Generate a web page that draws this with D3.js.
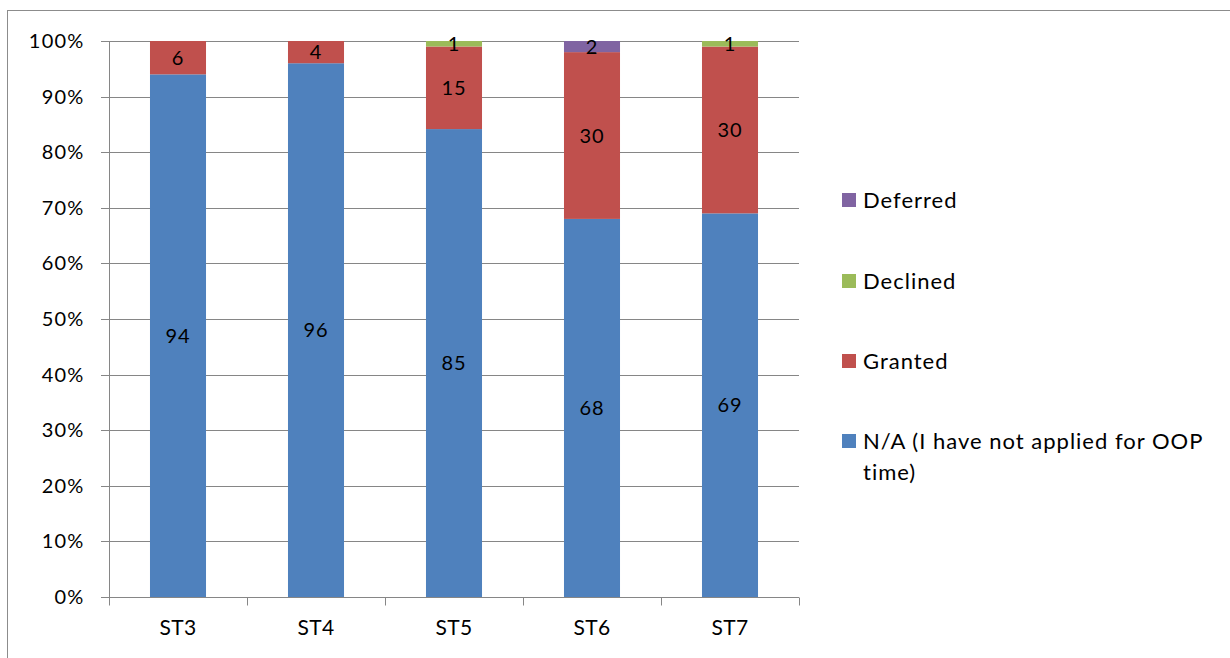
<!DOCTYPE html>
<html><head><meta charset="utf-8">
<script src="https://cdn.jsdelivr.net/npm/d3@7"></script>
<style>body{margin:0;background:#fff;} svg{display:block;} text{font-family:Lato,"Open Sans",sans-serif;fill:#000;}</style>
</head><body>
<svg id="c" width="1230" height="658"></svg>
<script>
const categories = ["ST3","ST4","ST5","ST6","ST7"];
const naValues = [94,96,85,68,69];
const grantedValues = [6,4,15,30,30];
const declinedValues = [0,0,1,0,1];
const deferredValues = [0,0,0,2,0];
const seriesNames = ["N/A (I have not applied for OOP time)","Granted","Declined","Deferred"];
const seriesColors = ["#4F81BD","#C0504D","#9BBB59","#8064A2"];
const yTicks = [0,0.1,0.2,0.3,0.4,0.5,0.6,0.7,0.8,0.9,1];

(function(){
const svg = d3.select("#c");
svg.append("rect").attr("x",7.5).attr("y",10.5).attr("width",1240).attr("height",660)
  .attr("fill","none").attr("stroke","#8c8c8c").attr("stroke-width",1);

const pL=109, pR=799, pT=41, pB=597;
const x = d3.scaleBand().domain(categories).range([pL,pR]).paddingInner(0.594).paddingOuter(0.297);
const y = d3.scaleLinear().domain([0,1]).range([pB,pT]);

svg.append("g").selectAll("line").data(yTicks).join("line")
  .attr("x1",pL-8).attr("x2",pR).attr("y1",d=>Math.round(y(d))+0.5).attr("y2",d=>Math.round(y(d))+0.5)
  .attr("stroke","#868686").attr("stroke-width",1);

const rows = categories.map((c,i)=>({cat:c, s0:naValues[i], s1:grantedValues[i], s2:declinedValues[i], s3:deferredValues[i]}));
const keys=["s0","s1","s2","s3"];
const stacked = d3.stack().keys(keys).offset(d3.stackOffsetExpand)(rows);

const g = svg.append("g");
stacked.forEach((layer,li)=>{
  g.append("g").selectAll("rect").data(layer).join("rect")
    .attr("x",d=>x(d.data.cat)).attr("width",x.bandwidth())
    .attr("y",d=>y(d[1])).attr("height",d=>Math.max(0,y(d[0])-y(d[1])))
    .attr("fill",seriesColors[li]);
});
stacked.forEach((layer,li)=>{
  g.append("g").selectAll("text").data(layer.filter(d=>d.data[keys[li]]>0)).join("text")
    .attr("x",d=>x(d.data.cat)+x.bandwidth()/2)
    .attr("y",d=>y((d[0]+d[1])/2))
    .attr("dy","0.36em").attr("text-anchor","middle").attr("font-size",20).attr("letter-spacing",0.8)
    .text(d=>d.data[keys[li]]);
});

const ya = d3.axisLeft(y).tickValues(yTicks).tickFormat(d3.format(".0%")).tickSize(0).tickPadding(25);
const yg = svg.append("g").attr("transform",`translate(${pL+0.5},0)`).call(ya);
yg.select(".domain").attr("stroke","#868686").attr("d",`M0,${pT}V${pB}`);
yg.selectAll("text").attr("font-size",20).attr("letter-spacing",1.2).attr("font-family","Lato,'Open Sans',sans-serif");

const xa = d3.axisBottom(x).tickSize(0).tickPadding(23);
const xg = svg.append("g").attr("transform",`translate(0,${pB+0.5})`).call(xa);
xg.select(".domain").attr("stroke","#868686").attr("d",`M${pL},0H${pR}`);
xg.selectAll("text").attr("font-size",21).attr("letter-spacing",0.3).attr("font-family","Lato,'Open Sans',sans-serif");
const bounds = categories.map(c=>x(c)-x.step()*x.paddingInner()/2).concat([pR]);
xg.selectAll("line.b").data(bounds).join("line").attr("class","b")
  .attr("x1",d=>Math.round(d)+0.5).attr("x2",d=>Math.round(d)+0.5).attr("y1",0).attr("y2",8)
  .attr("stroke","#868686");

const legendOrder=[3,2,1,0];
const lg = svg.append("g");
const ly=[200,281,361,441];
legendOrder.forEach((si,i)=>{
  lg.append("rect").attr("x",842).attr("y",ly[i]-7).attr("width",14).attr("height",14).attr("fill",seriesColors[si]);
  const t = lg.append("text").attr("x",863).attr("y",ly[i]).attr("dy","0.36em").attr("font-size",22).attr("letter-spacing",1);
  if(si===0){
    t.append("tspan").attr("x",863).text("N/A (I have not applied for OOP");
    t.append("tspan").attr("x",863).attr("dy","1.4em").text("time)");
  } else t.text(seriesNames[si]);
});
})();
</script>
</body></html>
